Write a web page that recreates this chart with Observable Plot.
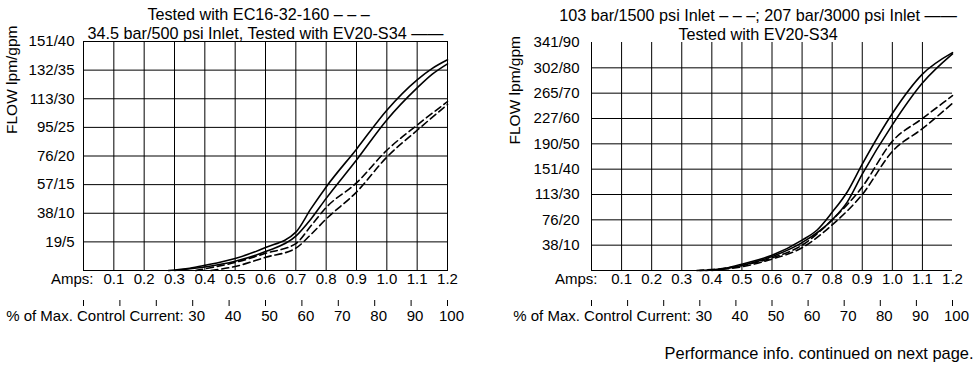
<!DOCTYPE html>
<html><head><meta charset="utf-8">
<script src="https://cdn.jsdelivr.net/npm/d3@7"></script>
<script src="https://cdn.jsdelivr.net/npm/@observablehq/plot@0.6"></script>
<style>
body{margin:0;background:#fff;}
#wrap{display:flex;width:975px;height:368px;overflow:hidden;}
</style></head><body><div id="wrap"></div>
<script>
// ---- tick values & labels ----
const ampsTicks = [0.1,0.2,0.3,0.4,0.5,0.6,0.7,0.8,0.9,1.0,1.1,1.2];
const ampsLabels = ["0.1","0.2","0.3","0.4","0.5","0.6","0.7","0.8","0.9","1.0","1.1","1.2"];
const pctTicks = [0,10,20,30,40,50,60,70,80,90,100];
const pctLabels = [30,40,50,60,70,80,90,100];
const maxAmps = 1.2;

const leftYTicks = [5,10,15,20,25,30,35,40];
const leftYLabels = ["19/5","38/10","57/15","76/20","95/25","113/30","132/35","151/40"];
const rightYTicks = [10,20,30,40,50,60,70,80,90];
const rightYLabels = ["38/10","76/20","113/30","151/40","190/50","227/60","265/70","302/80","341/90"];

// ---- series (amps, gpm) ----
// Left: 34.5 bar/500 psi, EV20-S34 (solid, two branches) and EC16-32-160 (dashed, two branches)
const leftSolidA = [[0.28,0],[0.35,0.4],[0.4,0.9],[0.5,2.1],[0.6,4.0],[0.7,6.7],[0.75,10.8],[0.8,14.6],[0.9,21.2],[1.0,28.0],[1.1,33.3],[1.15,35.3],[1.2,36.8]];
const leftSolidB = [[0.3,0],[0.4,0.6],[0.5,1.6],[0.6,3.3],[0.7,6.0],[0.75,9.0],[0.8,12.6],[0.9,19.3],[1.0,26.3],[1.1,31.9],[1.15,34.3],[1.2,36.1]];
const leftDashA = [[0.37,0],[0.4,0.3],[0.5,1.4],[0.6,3.0],[0.7,4.7],[0.75,7.8],[0.8,11.0],[0.9,15.3],[1.0,21.0],[1.1,25.4],[1.2,29.5]];
const leftDashB = [[0.42,0],[0.5,0.7],[0.6,2.3],[0.7,3.9],[0.75,6.3],[0.8,9.0],[0.9,13.7],[1.0,19.8],[1.1,24.5],[1.2,29.0]];
// Right: 207 bar/3000 psi (solid) and 103 bar/1500 psi (dashed), EV20-S34
const rightSolidA = [[0.38,0],[0.45,1],[0.5,2.5],[0.6,6],[0.7,12],[0.75,16],[0.8,23],[0.85,31],[0.9,42],[1.0,62],[1.1,77.5],[1.2,86]];
const rightSolidB = [[0.4,0],[0.5,2],[0.6,5.5],[0.7,11],[0.8,20],[0.85,27],[0.9,38],[1.0,57.5],[1.1,74],[1.2,85.5]];
const rightDashA = [[0.35,0],[0.45,1],[0.5,2],[0.6,5],[0.7,10],[0.8,20],[0.9,33],[1.0,51],[1.1,60],[1.2,69]];
const rightDashB = [[0.36,0],[0.5,1.5],[0.6,4.5],[0.7,9],[0.8,18],[0.9,30],[1.0,47],[1.1,56],[1.2,66]];

const toRows = (name, arr) => arr.map(([a, g]) => ({series: name, amps: a, gpm: g}));
const FONT = "Liberation Sans, Arial, Helvetica, sans-serif";
const TICK_FS = 15, TITLE_FS = 16.2;

function chart(o) {
  const yMap = new Map(o.yTicks.map((t, i) => [t, o.yLabels[i]]));
  const aMap = new Map(ampsTicks.map((t, i) => [t, ampsLabels[i]]));
  const pctAmps = pctTicks.map(p => p * maxAmps / 100);
  const pctLabelRows = pctLabels.map(p => ({x: p * maxAmps / 100, t: String(p)}));
  const solid = [...toRows("a", o.solidA), ...toRows("b", o.solidB)];
  const dashed = [...toRows("a", o.dashA), ...toRows("b", o.dashB)];
  const marks = [
    Plot.gridX(ampsTicks.filter(t => t < 1.15), {stroke: "black", strokeOpacity: 1, strokeWidth: 1}),
    Plot.gridY(o.gridY, {stroke: "black", strokeOpacity: 1, strokeWidth: 1}),
    Plot.ruleX([0], {stroke: "black"}),
    Plot.ruleY([0], {stroke: "black"}),
  ];
  if (o.frame) marks.push(Plot.frame({stroke: "black"}));
  marks.push(
    Plot.axisY(o.yTicks, {tickSize: 0, tickPadding: o.yPad, tickFormat: d => yMap.get(d), label: null, fontSize: TICK_FS, fill: "black"}),
    Plot.text(["FLOW lpm/gpm"], {frameAnchor: "left", rotate: -90, dx: -o.flowOff, dy: o.flowDy, fontSize: 15.5}),
    Plot.text(ampsTicks, {x: d => d, text: d => aMap.get(d), frameAnchor: "bottom", dy: 13, fontSize: TICK_FS}),
    Plot.text(["Amps:"], {frameAnchor: "bottom-left", textAnchor: "end", dx: o.ampsDx, dy: 13, fontSize: TICK_FS}),
    Plot.axisX(pctAmps, {tickSize: 6, dy: 30, tickFormat: () => "", label: null}),
    Plot.text(pctLabelRows, {x: "x", text: "t", frameAnchor: "bottom", dy: 50, dx: 4, fontSize: TICK_FS}),
    Plot.text(["% of Max. Control Current:"], {x: [pctLabels[0] * maxAmps / 100], frameAnchor: "bottom", textAnchor: "end", dx: -9, dy: 50, fontSize: TICK_FS}),
    Plot.text([o.title1], {frameAnchor: "top", dx: o.t1dx, dy: -33.5, fontSize: TITLE_FS}),
    Plot.text([o.title2], {frameAnchor: "top", dx: o.t2dx, dy: -14, fontSize: TITLE_FS}),
    Plot.line(solid, {x: "amps", y: "gpm", z: "series", stroke: "black", strokeWidth: 1.6, curve: "monotone-x"}),
    Plot.line(dashed, {x: "amps", y: "gpm", z: "series", stroke: "black", strokeWidth: 1.6, strokeDasharray: "7,4", curve: "monotone-x"})
  );
  if (o.foot) marks.push(Plot.text([o.foot], {frameAnchor: "bottom-right", textAnchor: "end", dx: 21, dy: 88, fontSize: 16.4}));
  return Plot.plot({
    width: o.width, height: 368,
    marginLeft: o.ml, marginRight: o.mr, marginTop: o.mt, marginBottom: 98,
    style: {fontFamily: FONT, fontSize: "15px", background: "white", color: "black", overflow: "visible"},
    x: {domain: [0, maxAmps], axis: null},
    y: {domain: o.yDomain, axis: null},
    marks
  });
}

const left = chart({
  width: 480, ml: 83, mr: 33, mt: 41, yDomain: [0, 40], frame: true,
  yTicks: leftYTicks, yLabels: leftYLabels, gridY: [5,10,15,20,25,30,35],
  yPad: 9, flowOff: 71, flowDy: -22, ampsDx: 10,
  title1: "Tested with EC16-32-160 – – –", t1dx: -7,
  title2: "34.5 bar/500 psi Inlet, Tested with EV20-S34 ——", t2dx: 0,
  solidA: leftSolidA, solidB: leftSolidB, dashA: leftDashA, dashB: leftDashB
});
const right = chart({
  width: 495, ml: 111, mr: 23, mt: 42, yDomain: [0, 90], frame: false,
  yTicks: rightYTicks, yLabels: rightYLabels, gridY: [10,20,30,40,50,60,70,80],
  yPad: 12, flowOff: 76, flowDy: -12, ampsDx: 6,
  title1: "103 bar/1500 psi Inlet – – –; 207 bar/3000 psi Inlet ——", t1dx: -14,
  title2: "Tested with EV20-S34", t2dx: -14,
  solidA: rightSolidA, solidB: rightSolidB, dashA: rightDashA, dashB: rightDashB,
  foot: "Performance info. continued on next page."
});
document.getElementById("wrap").append(left, right);
</script>
</body></html>
